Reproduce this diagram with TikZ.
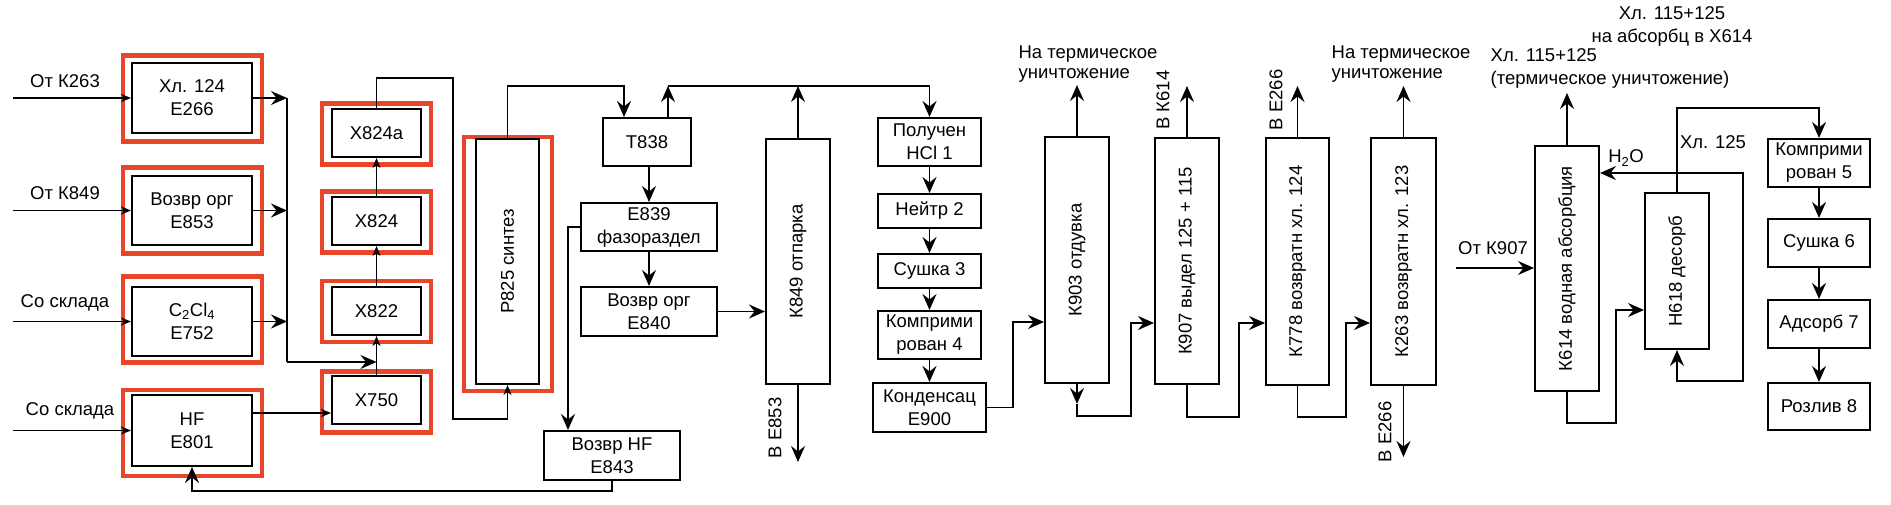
\documentclass[tikz,border=0pt]{standalone}
\usepackage{fontspec}
\setmainfont{Liberation Sans}
\usetikzlibrary{arrows.meta}
\definecolor{redc}{RGB}{232,69,43}
\newcommand{\fs}{\fontsize{18.5}{23}\selectfont}
\newcommand{\fsb}{\fontsize{18.5}{20.5}\selectfont}
\begin{document}
\begin{tikzpicture}[x=1pt,y=-1pt,
 box/.style={draw=black,line width=2pt,inner sep=0pt,align=center,font=\fs},
 redbox/.style={draw=redc,line width=4.2pt,inner sep=0pt,minimum width=139,minimum height=86},
 xred/.style={draw=redc,line width=4.2pt,inner sep=0pt,minimum width=109,minimum height=61},
 lbl/.style={inner sep=0pt,font=\fs},
 rl/.style={rotate=90,inner sep=0pt,font=\fs},
 con/.style={line width=1.7pt},
 arr/.style={con,-{Stealth[length=16pt,width=14pt,inset=5.5pt]}},
 arrb/.style={con,{Stealth[length=16pt,width=14pt,inset=5.5pt]}-{Stealth[length=16pt,width=14pt,inset=5.5pt]}},
 sarr/.style={line width=1.4pt,-{Stealth[length=10pt,width=8pt,inset=3pt]}},
]
\useasboundingbox (0,0) rectangle (1891,505);

% red frames
\node[redbox] (r266) at (192.5,98.5) {};
\node[redbox] (r853) at (192.5,210.5) {};
\node[redbox] (r752) at (192.5,319.5) {};
\node[redbox] (r801) at (192.5,433) {};
\node[xred] (r824a) at (376.5,134) {};
\node[xred] (r824) at (376.5,222) {};
\node[xred] (r822) at (376.5,311.5) {};
\node[xred] (r750) at (376.5,402) {};
\node[draw=redc,line width=4.2pt,inner sep=0pt,minimum width=88,minimum height=254] (r825) at (508,264) {};

% left column
\node[box,minimum width=120,minimum height=70] (e266) at (192,98) {Хл. 124\\Е266};
\node[box,minimum width=120,minimum height=69] (e853) at (192,210.5) {Возвр орг\\Е853};
\node[box,minimum width=120,minimum height=69] (e752) at (192,321.5) {C\textsubscript{2}Cl\textsubscript{4}\\Е752};
\node[box,minimum width=120,minimum height=71] (e801) at (192,430.5) {HF\\Е801};

% X column
\node[box,minimum width=89,minimum height=48] (x824a) at (376.5,133) {Х824а};
\node[box,minimum width=89,minimum height=48] (x824) at (376.5,221) {Х824};
\node[box,minimum width=89,minimum height=48] (x822) at (376.5,311) {Х822};
\node[box,minimum width=89,minimum height=48] (x750) at (376.5,400) {Х750};

% P825
\node[box,minimum width=63,minimum height=245,label={[rl]center:Р825 синтез}] (p825) at (507.5,261.5) {};

% middle
\node[box,minimum width=88,minimum height=48] (t838) at (647,142) {Т838};
\node[box,minimum width=136,minimum height=48] (e839) at (649,227) {Е839\\фазораздел};
\node[box,minimum width=136,minimum height=49] (e840) at (649,311.5) {Возвр орг\\Е840};
\node[box,minimum width=136,minimum height=49] (e843) at (612,455.5) {Возвр HF\\Е843};
\node[box,minimum width=64,minimum height=245,label={[rl]center:К849 отпарка}] (k849) at (798,261.5) {};

% HCl chain
\node[box,minimum width=103,minimum height=48] (pol) at (929.5,142) {Получен\\HCl 1};
\node[box,minimum width=103,minimum height=34] (ney) at (929.5,211) {Нейтр 2};
\node[box,minimum width=103,minimum height=34] (su3) at (929.5,271) {Сушка 3};
\node[box,minimum width=103,minimum height=48] (km4) at (929.5,335) {Комприми\\рован 4};
\node[box,minimum width=113,minimum height=49] (e900) at (929.5,407.5) {Конденсац\\Е900};

% columns
\node[box,minimum width=64,minimum height=246,label={[rl]center:К903 отдувка}] (k903) at (1077,260) {};
\node[box,minimum width=64,minimum height=246,label={[rl]center:К907 выдел 125 + 115}] (k907) at (1187,261) {};
\node[box,minimum width=63,minimum height=246,label={[rl]center:К778 возвратн хл. 124}] (k778) at (1297.5,261.5) {};
\node[box,minimum width=65,minimum height=246,label={[rl]center:К263 возвратн хл. 123}] (k263) at (1403.5,261.5) {};

% right part
\node[box,minimum width=64,minimum height=245,label={[rl]center:К614 водная абсорбция}] (k614) at (1567,268.5) {};
\node[box,minimum width=64,minimum height=156,label={[rl]center:Н618 десорб}] (h618) at (1677,271) {};
\node[box,minimum width=102,minimum height=48] (k5) at (1819,163) {Комприми\\рован 5};
\node[box,minimum width=102,minimum height=48] (s6) at (1819,243) {Сушка 6};
\node[box,minimum width=102,minimum height=48] (a7) at (1819,324) {Адсорб 7};
\node[box,minimum width=102,minimum height=47] (r8) at (1819,406.5) {Розлив 8};

% labels
\node[lbl] (l1) at (65,81) {От К263};
\node[lbl] (l2) at (65,193) {От К849};
\node[lbl] (l3) at (65,303) {Со склада};
\node[lbl] (l4) at (70,411) {Со склада};
\node[rl] (l5) at (775,428) {В Е853};
\node[lbl,align=left,font=\fsb] (l6) at (1088,64) {На термическое\\уничтожение};
\node[rl] (l7) at (1163,100) {В К614};
\node[rl] (l8) at (1276,100) {В Е266};
\node[lbl,align=left,font=\fsb] (l9) at (1401,64) {На термическое\\уничтожение};
\node[rl] (l10) at (1385,432) {В Е266};
\node[lbl] (l11) at (1493,248) {От К907};
\node[lbl,align=left] (l12) at (1610,68) {Хл. 115+125\\(термическое уничтожение)};
\node[lbl,align=center] (l13) at (1672,26) {Хл. 115+125\\на абсорбц в Х614};
\node[lbl] (l14) at (1713,142) {Хл. 125};
\node[lbl] (l15) at (1626,158) {H\textsubscript{2}O};

% inputs
\coordinate (in1) at (13,98);
\coordinate (in2) at (13,210.5);
\coordinate (in3) at (13,321.5);
\coordinate (in4) at (13,430.5);
\draw[sarr] (in1) -- (e266.west);
\draw[sarr] (in2) -- (e853.west);
\draw[sarr] (in3) -- (e752.west);
\draw[sarr] (in4) -- (e801.west);

% collector
\coordinate (c1) at (287,98);
\coordinate (c2) at (287,210.5);
\coordinate (c3) at (287,321.5);
\coordinate (c4) at (287,362);
\coordinate (c5) at (376.5,362);
\draw[arr] (e266.east) -- (c1);
\draw[arr] (e853.east) -- (c2);
\draw[arr] (e752.east) -- (c3);
\draw[con] (c1) -- (c4);
\draw[arr] (c4) -- (c5);

% HF to X750
\coordinate (hy) at (0,413);
\draw[sarr] (e801.east |- hy) -- (x750.west |- hy);

% X column
\draw[sarr] (x750) -- (x822);
\draw[sarr] (x822) -- (x824);
\draw[sarr] (x824) -- (x824a);
\coordinate (t1) at (376.5,78);
\coordinate (t2) at (453,78);
\coordinate (t3) at (453,419);
\coordinate (t4) at (507.5,419);
\draw[sarr] (x824a.north) -- (t1) -- (t2) -- (t3) -- (t4) -- (p825.south);

% P825 to T838
\coordinate (p1) at (507.5,86);
\coordinate (p2) at (624,86);
\draw[arr] (p825.north) -- (p1) -- (p2) -- (p2 |- t838.north);
\coordinate (q1) at (668,86);
\coordinate (q2) at (929.5,86);
\draw[arr] (q1 |- t838.north) -- (q1);
\draw[arr] (q1) -- (q2) -- (pol.north);
\draw[arr] (k849.north) -- (k849.north |- q1);
\coordinate (k849out) at (798,462);
\draw[arr] (k849.south) -- (k849out);

% middle column
\draw[arr] (t838.south -| e839.north) -- (e839.north);
\draw[arr] (e839) -- (e840);
\draw[arr] (e840.east) -- (e840.east -| k849.west);
\coordinate (d1) at (568,227);
\draw[arr] (e839.west) -- (d1) -- (d1 |- e843.north);
\coordinate (f1) at (612,491);
\coordinate (f2) at (192,491);
\draw[arr] (e843.south) -- (f1) -- (f2) -- (e801.south);

% HCl chain
\draw[arr] (pol) -- (ney);
\draw[arr] (ney) -- (su3);
\draw[arr] (su3) -- (km4);
\draw[arr] (km4) -- (e900);
\coordinate (g1) at (1013,407.5);
\coordinate (g2) at (1013,322);
\draw[arr] (e900.east) -- (g1) -- (g2) -- (g2 -| k903.west);

% K903
\coordinate (k903out) at (1077,85);
\draw[arr] (k903.north) -- (k903out);
\coordinate (m0) at (1077,404);
\draw[arr] (k903.south) -- (m0);
\coordinate (m1) at (1077,416);
\coordinate (m2) at (1131,416);
\coordinate (m3) at (1131,323);
\draw[arr] (m0) -- (m1) -- (m2) -- (m3) -- (m3 -| k907.west);

% K907
\coordinate (k907out) at (1187,86);
\draw[arr] (k907.north) -- (k907out);
\coordinate (u1) at (1187,417);
\coordinate (u2) at (1239,417);
\coordinate (u3) at (1239,323);
\draw[arr] (k907.south) -- (u1) -- (u2) -- (u3) -- (u3 -| k778.west);

% K778
\coordinate (k778out) at (1297.5,86);
\draw[arr] (k778.north) -- (k778out);
\coordinate (v1) at (1297.5,417);
\coordinate (v2) at (1346,417);
\coordinate (v3) at (1346,323);
\draw[arr] (k778.south) -- (v1) -- (v2) -- (v3) -- (v3 -| k263.west);

% K263
\coordinate (k263out) at (1403.5,86);
\draw[arr] (k263.north) -- (k263out);
\coordinate (k263bot) at (1403.5,457);
\draw[arr] (k263.south) -- (k263bot);

% right part
\coordinate (in5) at (1456,268);
\draw[arr] (in5) -- (in5 -| k614.west);
\coordinate (k614out) at (1567,93);
\draw[arr] (k614.north) -- (k614out);
\coordinate (n1) at (1567,423);
\coordinate (n2) at (1616,423);
\coordinate (n3) at (1616,310);
\draw[arr] (k614.south) -- (n1) -- (n2) -- (n3) -- (n3 -| h618.west);
\coordinate (o1) at (1677,108);
\coordinate (o2) at (1819,108);
\draw[arr] (h618.north) -- (o1) -- (o2) -- (k5.north);
\coordinate (w1) at (1743,173);
\coordinate (w2) at (1743,381);
\coordinate (w3) at (1677,381);
\draw[arrb] (w1 -| k614.east) -- (w1) -- (w2) -- (w3) -- (h618.south);
\draw[arr] (k5) -- (s6);
\draw[arr] (s6) -- (a7);
\draw[arr] (a7) -- (r8);
\end{tikzpicture}
\end{document}
